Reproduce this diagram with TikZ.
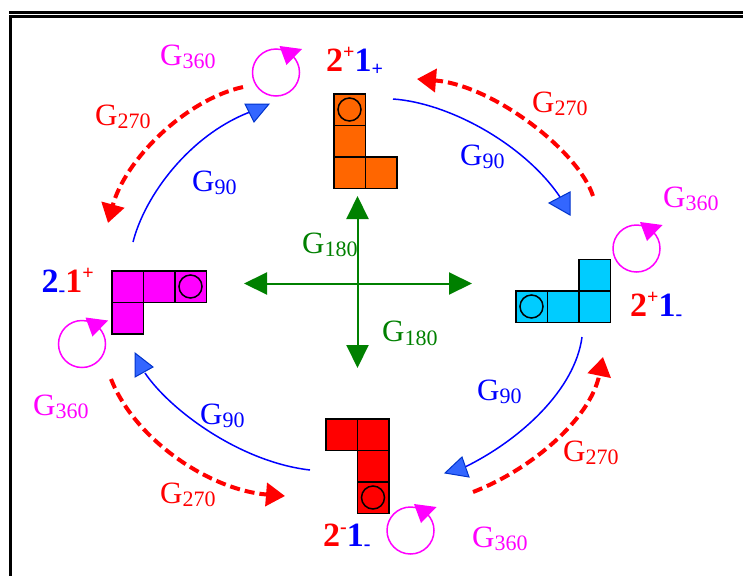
\documentclass[tikz,border=0pt]{standalone}
\usepackage{fontspec}
\setmainfont{Liberation Serif}
\usetikzlibrary{arrows.meta}
\definecolor{pporange}{HTML}{FF6600}
\definecolor{ppcyan}{HTML}{00CCFF}
\definecolor{ppmagenta}{HTML}{FF00FF}
\definecolor{ppred}{HTML}{FF0000}
\definecolor{ppblue}{HTML}{0000FF}
\definecolor{ppgreen}{HTML}{008000}
\definecolor{headblue}{HTML}{3366FF}
\definecolor{headedge}{HTML}{0033CC}
\newcommand{\gsub}[1]{G\raisebox{-3.5pt}{\fontsize{22}{22}\selectfont #1}}
\newcommand{\supm}[1]{\raisebox{13pt}{\fontsize{20}{20}\selectfont #1}}
\newcommand{\subm}[1]{\raisebox{-4pt}{\fontsize{20}{20}\selectfont #1}}

\begin{document}
\begin{tikzpicture}[
  x=1pt, y=-1pt,
  cell/.style={draw, line width=1.5pt, minimum size=31.5pt, inner sep=0pt,
    anchor=north west},
  knob/.style={draw, circle, line width=1.5pt, minimum size=23pt, inner sep=0pt},
  glabel/.style={anchor=base west, inner sep=0pt, font=\fontsize{31}{31}\selectfont},
  state/.style={anchor=base west, inner sep=0pt,
    font=\fontsize{34}{34}\selectfont\bfseries},
  g90/.style={ppblue, line width=1.5pt},
  g90head/.style={fill=headblue, draw=headedge, line width=1pt},
  g180/.style={ppgreen, line width=2pt,
    {Triangle[length=23pt, width=22pt]}-{Triangle[length=23pt, width=22pt]}},
  g270/.style={ppred, line width=4pt, dash pattern=on 10pt off 5pt,
    -{Triangle[length=19pt, width=23pt]}},
  loop/.pic={
    \draw[ppmagenta, line width=1.5pt] (0,0) circle[radius=23.5];
    \fill[ppmagenta] (3.5,-26.5) -- (26,-23.5) -- (10.5,-7.5) -- cycle;
  },
]
  \useasboundingbox (0,0) rectangle (743,576);

  % Slide frame
  \draw[line width=3pt] (9,12.5) -- (743,12.5);
  \draw[line width=3pt] (743,16.5) -- (10.5,16.5) -- (10.5,576);

  % Pieces
  \foreach \n/\x/\y in {o1/333/93, o2/333/124.5, o3/333/156, o4/364.5/156}
    \node[cell, fill=pporange] (\n) at (\x,\y) {};
  \foreach \n/\x/\y in {c1/515/290, c2/546.5/290, c3/578/290, c4/578/258.5}
    \node[cell, fill=ppcyan] (\n) at (\x,\y) {};
  \foreach \n/\x/\y in {m1/111/270, m2/142.5/270, m3/174/270, m4/111/301.5}
    \node[cell, fill=ppmagenta] (\n) at (\x,\y) {};
  \foreach \n/\x/\y in {r1/325/418, r2/356.5/418, r3/356.5/449.5, r4/356.5/481}
    \node[cell, fill=ppred] (\n) at (\x,\y) {};
  \node[knob] (ok) at (o1.center) {};
  \node[knob] (ck) at (c1.center) {};
  \node[knob] (mk) at (m3.center) {};
  \node[knob] (rk) at (r4.center) {};

  % State labels
  \node[state] (s1) at (326,71)
    {\textcolor{ppred}{2\supm{+}}\textcolor{ppblue}{1\subm{+}}};
  \node[state] (s2) at (630,316.5)
    {\textcolor{ppred}{2\supm{+}}\textcolor{ppblue}{1\subm{-}}};
  \node[state] (s3) at (323,546)
    {\textcolor{ppred}{2\supm{-}}\textcolor{ppblue}{1\subm{-}}};
  \node[state] (s4) at (41.5,292.5)
    {\textcolor{ppblue}{2\subm{-}}\textcolor{ppred}{1\supm{+}}};

  % G180 cross
  \coordinate (ct) at (357.5,196);
  \coordinate (cb) at (357.5,368);
  \coordinate (cl) at (244,283.5);
  \coordinate (cr) at (472,283.5);
  \draw[g180] (cb) -- (ct);
  \draw[g180] (cl) -- (cr);

  % G360 loops
  \pic (lpa) at (276,72.5) {loop};
  \pic (lpb) at (636.5,248.5) {loop};
  \pic (lpc) at (82,344) {loop};
  \pic (lpd) at (410.5,530.5) {loop};

  % G90 curves
  \coordinate (b1s) at (393,99);   \coordinate (b1e) at (560,197);
  \coordinate (b2s) at (133,242);  \coordinate (b2e) at (250,112);
  \coordinate (b3s) at (582,337);  \coordinate (b3e) at (465,467);
  \coordinate (b4s) at (310,470);  \coordinate (b4e) at (145,373);
  \draw[g90] (b1s) .. controls (450,103) and (525,145) .. (b1e);
  \draw[g90] (b2s) .. controls (145,195) and (190,135) .. (b2e);
  \draw[g90] (b3s) .. controls (575,390) and (520,440) .. (b3e);
  \draw[g90] (b4s) .. controls (240,462) and (170,410) .. (b4e);
  \filldraw[g90head] (549,203) -- (570,192) -- (570,215) -- cycle;
  \filldraw[g90head] (245,104) -- (269,104) -- (254,122) -- cycle;
  \filldraw[g90head] (445,473) -- (462,457) -- (469,477) -- cycle;
  \filldraw[g90head] (135,353) -- (153,367) -- (135,377) -- cycle;

  % G270 dashed arrows
  \coordinate (d1s) at (593,196);  \coordinate (d1e) at (417,79);
  \coordinate (d2s) at (243,87);   \coordinate (d2e) at (108,223);
  \coordinate (d3s) at (473,492);  \coordinate (d3e) at (603,357);
  \coordinate (d4s) at (111,379);  \coordinate (d4e) at (285,496);
  \draw[g270] (d1s) .. controls (578,150) and (492,85) .. (d1e);
  \draw[g270] (d2s) .. controls (185,100) and (125,160) .. (d2e);
  \draw[g270] (d3s) .. controls (530,470) and (590,420) .. (d3e);
  \draw[g270] (d4s) .. controls (135,440) and (210,490) .. (d4e);

  % Labels
  \foreach \n/\x/\y/\c/\v in {g360a/160/65/ppmagenta/360, g360b/663/207/ppmagenta/360,
      g360c/33/415/ppmagenta/360, g360d/472/547/ppmagenta/360,
      g270a/95/125/ppred/270, g270b/532/112/ppred/270,
      g270c/563/461/ppred/270, g270d/160/503/ppred/270,
      g90a/192/191/ppblue/90, g90b/460/165/ppblue/90,
      g90c/477/400/ppblue/90, g90d/200/424/ppblue/90,
      g180a/302/253/ppgreen/180, g180b/382/341.5/ppgreen/180}
    \node[glabel, text=\c] (\n) at (\x,\y) {\gsub{\v}};
\end{tikzpicture}
\end{document}
